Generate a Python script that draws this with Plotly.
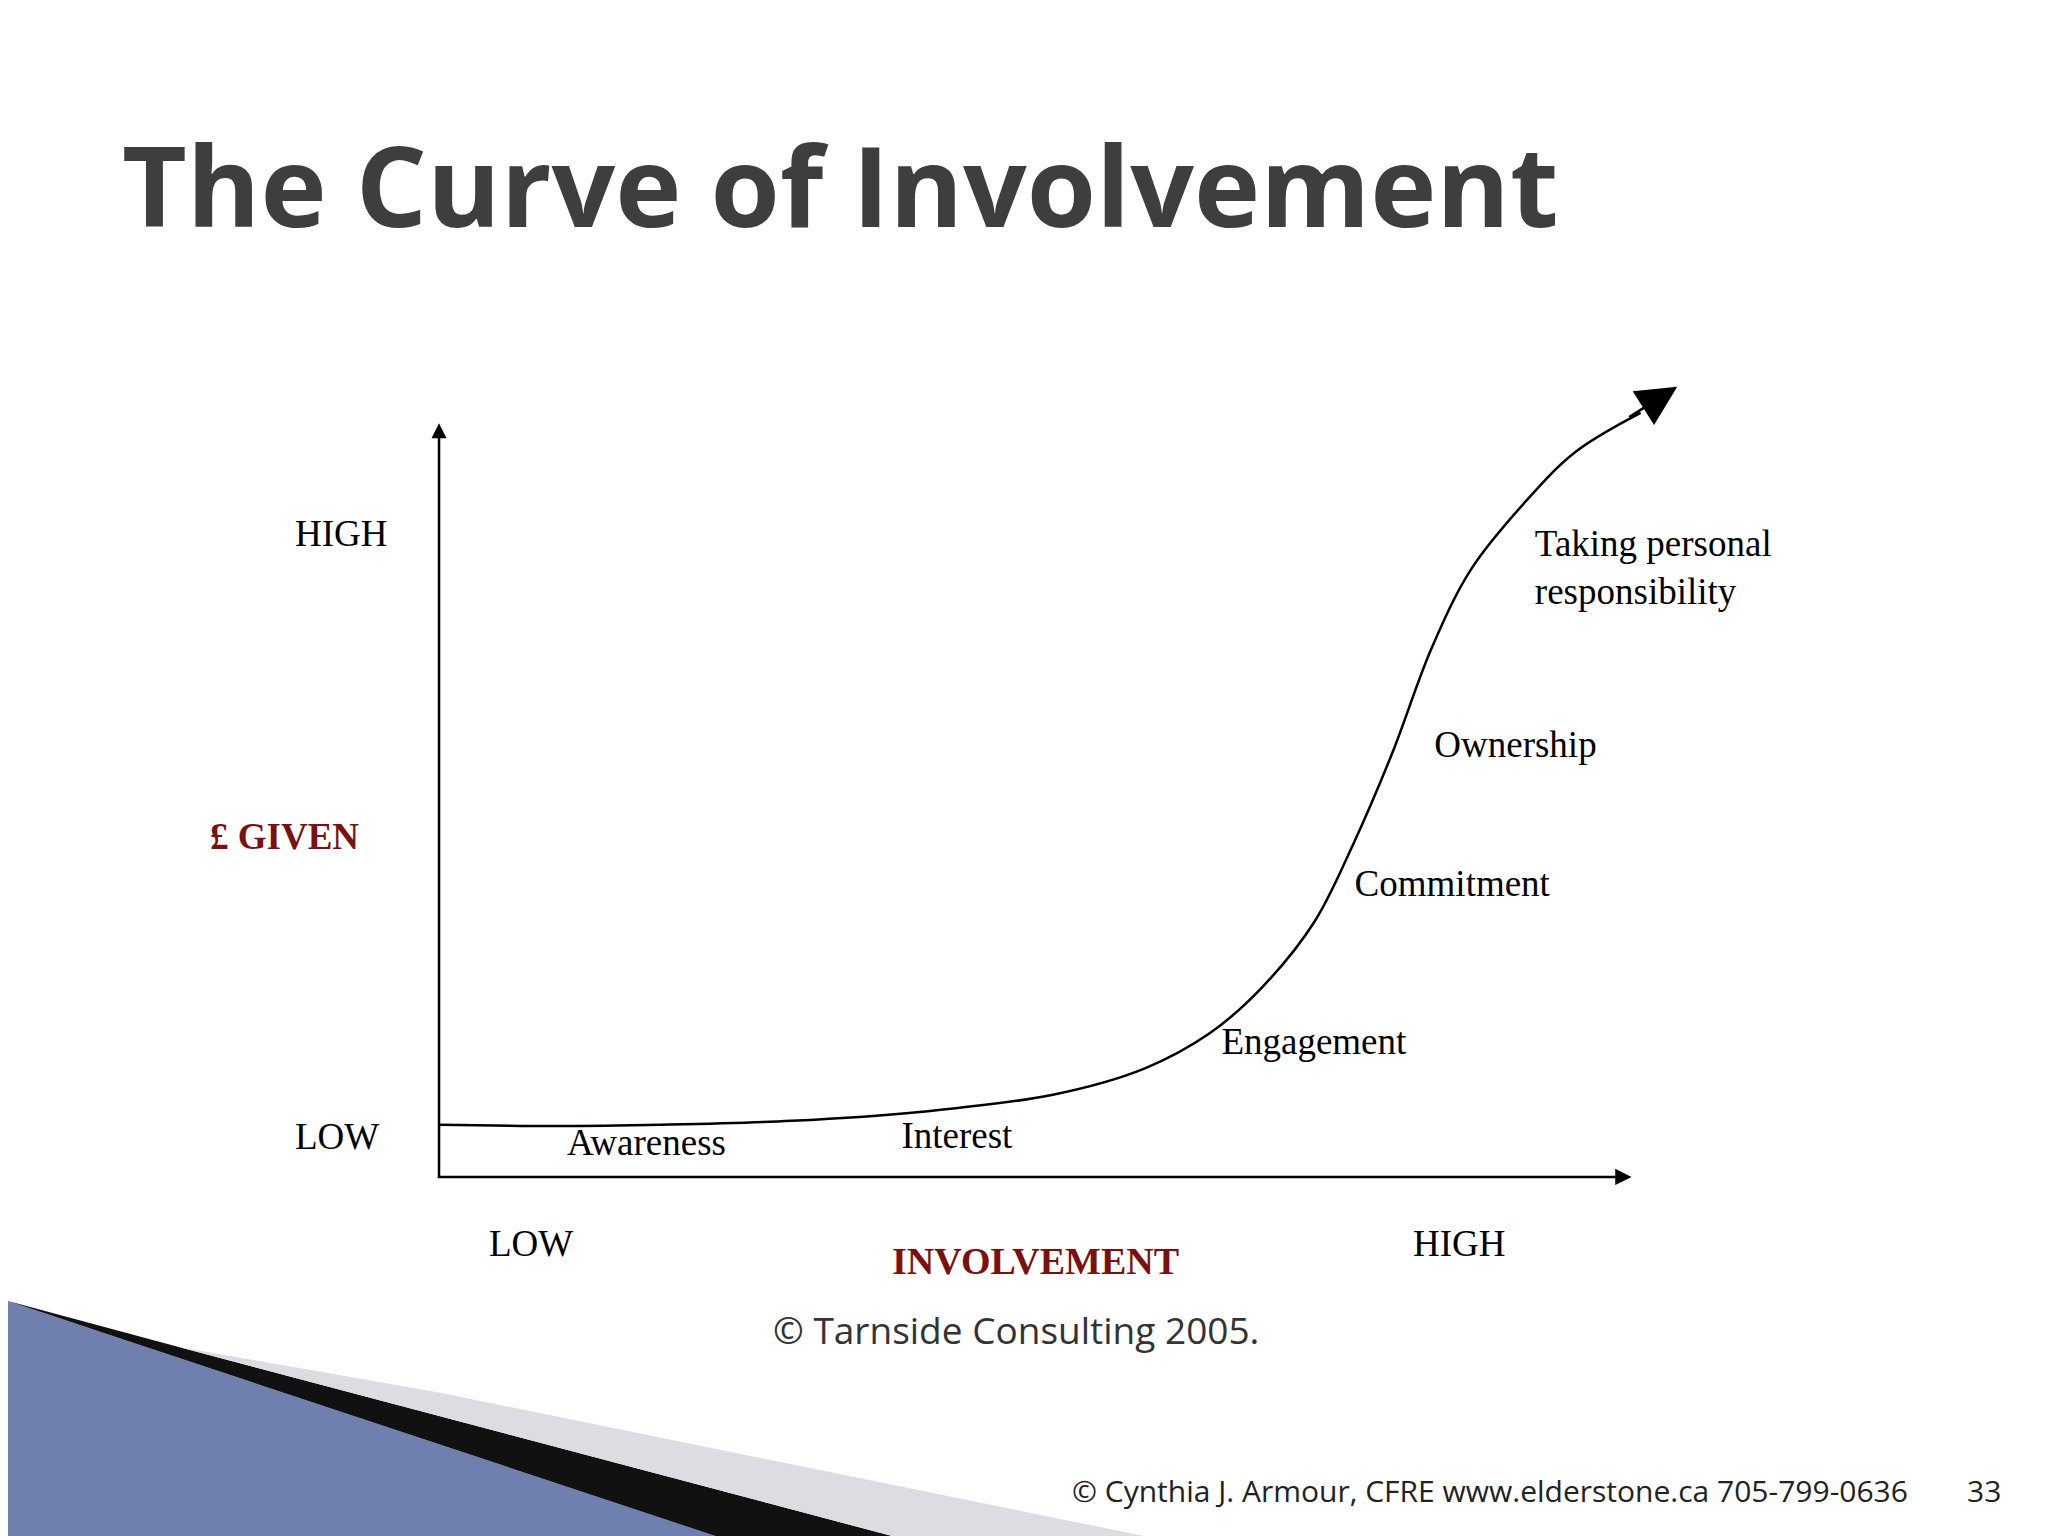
import plotly.graph_objects as go

# curve of involvement, traced in slide coordinates (1568 x 1176 slide)
curve_x = [330, 420, 500, 600, 700, 800, 870, 920, 960, 1000, 1030, 1060, 1090, 1120, 1160, 1200, 1250]
curve_y = [855, 856, 855, 852, 845, 832, 812, 785, 750, 700, 640, 570, 490, 430, 380, 340, 310]

stage_labels = ["Awareness", "Interest", "Engagement", "Commitment", "Ownership",
                "Taking personal<br>responsibility"]
stage_x = [428, 684, 929, 1031, 1092, 1169]
stage_y = [871, 866, 794, 673, 566, 431]

W, H = 1568, 1176
serif = "Liberation Serif, Times New Roman, serif"

fig = go.Figure()

# decorative slide corner
fig.add_shape(type="path", path="M 0 990 L 90 1020 L 560 1176 L 0 1176 Z",
              fillcolor="#6f7fae", line_width=0, layer="below")
fig.add_shape(type="path", path="M 0 990 L 130 1025 L 700 1176 L 560 1176 L 90 1020 Z",
              fillcolor="#111111", line_width=0, layer="below")
fig.add_shape(type="path", path="M 130 1025 L 330 1060 L 900 1176 L 700 1176 Z",
              fillcolor="#dcdde2", line_width=0, layer="below")

# axes
fig.add_annotation(x=330, y=318, ax=330, ay=897, xref="x", yref="y", axref="x", ayref="y",
                   showarrow=True, arrowhead=2, arrowwidth=2.5, arrowsize=1.2, arrowcolor="black", text="")
fig.add_annotation(x=1243, y=895, ax=328, ay=895, xref="x", yref="y", axref="x", ayref="y",
                   showarrow=True, arrowhead=2, arrowwidth=2.5, arrowsize=1.3, arrowcolor="black", text="")

fig.add_trace(go.Scatter(x=curve_x, y=curve_y, mode="lines", line=dict(color="black", width=2.5, shape="spline"),
                         showlegend=False, hoverinfo="skip"))
fig.add_annotation(x=1278, y=290, ax=1240, ay=314, xref="x", yref="y", axref="x", ayref="y",
                   showarrow=True, arrowhead=2, arrowwidth=2.5, arrowsize=3.2, arrowcolor="black", text="")

fig.add_trace(go.Scatter(x=stage_x, y=stage_y, mode="text", text=stage_labels, textposition="middle right",
                         textfont=dict(family=serif, size=37, color="black"), showlegend=False, hoverinfo="skip"))

def txt(x, y, s, size=37, color="black", bold=False, family=serif, anchor="left"):
    fig.add_annotation(x=x, y=y, xref="x", yref="y", text=f"<b>{s}</b>" if bold else s, showarrow=False,
                       xanchor=anchor, font=dict(family=family, size=size, color=color))

txt(218, 402, "HIGH")
txt(218, 864, "LOW")
txt(153, 634, "£ GIVEN", color="#7a1010", bold=True)
txt(367, 946, "LOW")
txt(1074, 946, "HIGH")
txt(675, 959, "INVOLVEMENT", size=38, color="#7a1010", bold=True)
txt(584, 1012, "© Tarnside Consulting 2005.", size=37, color="#333333", family="Open Sans, sans-serif")
txt(86, 134, "<b>The Curve of Involvement</b>", size=112, color="#3e3e3e", family="Open Sans, sans-serif")
txt(1456, 1135, "© Cynthia J. Armour, CFRE www.elderstone.ca 705-799-0636", size=30, color="#222222",
    family="Open Sans, sans-serif", anchor="right")
txt(1498, 1135, "33", size=30, color="#222222", family="Open Sans, sans-serif")

fig.update_xaxes(range=[0, W], visible=False)
fig.update_yaxes(range=[H, 0], visible=False)
fig.update_layout(width=2048, height=1536, margin=dict(l=0, r=0, t=0, b=0),
                  plot_bgcolor="white", paper_bgcolor="white")
fig.write_html("out.html")
